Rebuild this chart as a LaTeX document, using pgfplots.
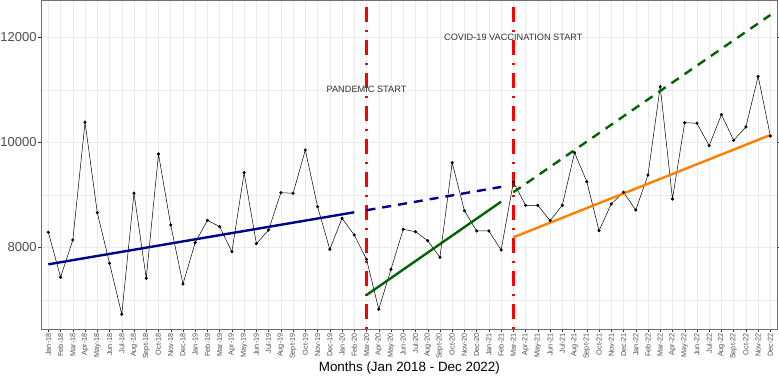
\documentclass[border=0pt]{standalone}
\usepackage{pgfplots}
\pgfplotsset{compat=1.18}
\usepackage{pgfplotstable}
\usepackage{fontspec}
\setmainfont{Liberation Sans}
\definecolor{grid92}{HTML}{EBEBEB}
\definecolor{grey30}{HTML}{4D4D4D}
\definecolor{grey20}{HTML}{333333}
\definecolor{navy}{HTML}{00008B}
\definecolor{dgreen}{HTML}{006400}
\definecolor{dorange}{HTML}{FF8000}
\pgfplotstableread{
idx val
0 8286
1 7429
2 8139
3 10381
4 8659
5 7695
6 6724
7 9029
8 7409
9 9777
10 8425
11 7301
12 8088
13 8514
14 8393
15 7916
16 9421
17 8069
18 8330
19 9040
20 9029
21 9853
22 8774
23 7962
24 8552
25 8234
26 7771
27 6819
28 7581
29 8343
30 8297
31 8126
32 7810
33 9612
34 8697
35 8311
36 8311
37 7949
38 9240
39 8800
40 8800
41 8507
42 8800
43 9802
44 9250
45 8317
46 8825
47 9048
48 8711
49 9377
50 11059
51 8920
52 10374
53 10362
54 9936
55 10527
56 10038
57 10292
58 11257
59 10120
}\datatable
\begin{document}
\begin{tikzpicture}
\begin{axis}[
  scale only axis,
  width=736.7pt, height=328.6pt,
  xmin=-0.6, xmax=59.6,
  ymin=6438, ymax=12697,
  xtick={0,...,59},
  xticklabels={Jan-18,Feb-18,Mar-18,Apr-18,May-18,Jun-18,Jul-18,Aug-18,Sept-18,Oct-18,Nov-18,Dec-18,
  Jan-19,Feb-19,Mar-19,Apr-19,May-19,Jun-19,Jul-19,Aug-19,Sept-19,Oct-19,Nov-19,Dec-19,
  Jan-20,Feb-20,Mar-20,Apr-20,May-20,Jun-20,Jul-20,Aug-20,Sept-20,Oct-20,Nov-20,Dec-20,
  Jan-21,Feb-21,Mar-21,Apr-21,May-21,Jun-21,Jul-21,Aug-21,Sept-21,Oct-21,Nov-21,Dec-21,
  Jan-22,Feb-22,Mar-22,Apr-22,May-22,Jun-22,Jul-22,Aug-22,Sept-22,Oct-22,Nov-22,Dec-22},
  ytick={8000,10000,12000},
  minor ytick={7000,9000,11000},
  scaled y ticks=false,
  grid=both,
  major grid style={color=grid92, line width=0.5pt},
  minor grid style={color=grid92, line width=0.3pt},
  axis line style={color=grey20!70, line width=0.6pt},
  tick align=outside,
  major tick length=2.7pt,
  minor tick length=0pt,
  tick style={color=grey20, line width=0.4pt},
  /pgf/number format/assume math mode=true,
  /pgf/number format/1000 sep={},
  xticklabel style={rotate=90, anchor=east, font=\fontsize{7.3}{8}\selectfont, color=grey30, inner sep=1.2pt},
  yticklabel style={font=\fontsize{13}{13}\selectfont, color=grey30, inner sep=1.5pt},
  xlabel={Months (Jan 2018 - Dec 2022)},
  xlabel style={at={(axis description cs:0.5,0)}, anchor=center, yshift=-38.7pt, font=\fontsize{13.4}{14}\selectfont},
  clip=true,
]
% red vertical markers
\addplot[red, line width=3pt, dash pattern=on 2pt off 8pt on 15pt off 8pt] coordinates {(26,6438) (26,12697)};
\addplot[red, line width=3pt, dash pattern=on 2pt off 8pt on 15pt off 8pt] coordinates {(38,6438) (38,12697)};
% data
\addplot[black, line width=0.5pt, mark=*, mark size=1.3pt] table[x=idx, y=val] {\datatable};
% trends
\addplot[navy, line width=2.4pt] coordinates {(0,7676) (25,8667)};
\addplot[navy, line width=2.4pt, dash pattern=on 9pt off 7pt] coordinates {(26,8706) (37,9150)};
\addplot[dgreen, line width=2.4pt] coordinates {(26,7091) (37,8869)};
\addplot[dgreen, line width=2.4pt, dash pattern=on 9pt off 7pt] coordinates {(38,9048) (59,12425)};
\addplot[dorange, line width=2.4pt] coordinates {(38,8190) (59,10139)};
\node[font=\fontsize{9.2}{10}\selectfont, text=grey20] at (axis cs:26,11000) {PANDEMIC START};
\node[font=\fontsize{9.2}{10}\selectfont, text=grey20] at (axis cs:38,12000) {COVID-19 VACCINATION START};
\end{axis}
\pgfresetboundingbox
\path ([shift={(-41pt,-48.7pt)}]current axis.south west) rectangle ([shift={(1.3pt,0.7pt)}]current axis.north east);
\end{tikzpicture}
\end{document}
